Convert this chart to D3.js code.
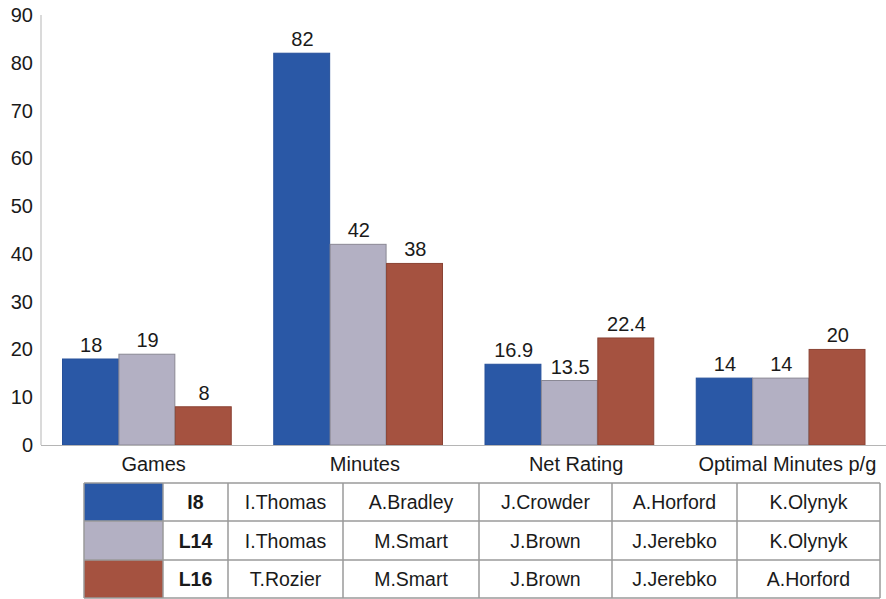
<!DOCTYPE html>
<html>
<head>
<meta charset="utf-8">
<script src="https://cdn.jsdelivr.net/npm/d3@7"></script>
<style>
  html, body { margin: 0; padding: 0; background: #fff; }
  svg text { font-family: "Liberation Sans", Arial, Helvetica, sans-serif; fill: #1a1a1a; }
</style>
</head>
<body>
<svg id="chart" width="886" height="599"></svg>
<script>
// Metric categories along the x axis
const categories = ["Games", "Minutes", "Net Rating", "Optimal Minutes p/g"];
// Lineup codes (series)
const seriesNames = ["I8", "L14", "L16"];
// Values per lineup, in category order
const valuesI8  = [18, 82, 16.9, 14];
const valuesL14 = [19, 42, 13.5, 14];
const valuesL16 = [8, 38, 22.4, 20];
// Players in each lineup
const playersI8  = ["I.Thomas", "A.Bradley", "J.Crowder", "A.Horford", "K.Olynyk"];
const playersL14 = ["I.Thomas", "M.Smart", "J.Brown", "J.Jerebko", "K.Olynyk"];
const playersL16 = ["T.Rozier", "M.Smart", "J.Brown", "J.Jerebko", "A.Horford"];
// Y axis ticks
const yTicks = [0, 10, 20, 30, 40, 50, 60, 70, 80, 90];

const seriesValues = [valuesI8, valuesL14, valuesL16];
const seriesPlayers = [playersI8, playersL14, playersL16];
const fills   = ["#2a58a6", "#b3b0c3", "#a55240"];
const strokes = ["#26509a", "#8a8894", "#8a4334"];

const svg = d3.select("#chart");
const plotLeft = 41, plotRight = 886, plotTop = 15, plotBottom = 445;
const fontSize = 20;

const x = d3.scaleBand().domain(categories).range([plotLeft, plotRight]).paddingInner(0).paddingOuter(0);
const inner = d3.scaleBand().domain(seriesNames).range([21, x.bandwidth() - 21]).padding(0);
const y = d3.scaleLinear().domain([0, 90]).range([plotBottom, plotTop]);

// Vertical axis line
svg.append("line").attr("x1", plotLeft).attr("x2", plotLeft).attr("y1", plotTop).attr("y2", plotBottom)
  .attr("stroke", "#b5b5b5").attr("stroke-width", 1);

// Y tick labels
svg.append("g").selectAll("text").data(yTicks).join("text")
  .attr("x", 33).attr("y", d => y(d)).attr("dy", "0.35em")
  .attr("text-anchor", "end").attr("font-size", fontSize).text(d => d);

// Bars
const rows = [];
categories.forEach((c, ci) => seriesNames.forEach((s, si) => rows.push({ c, s, si, v: seriesValues[si][ci] })));

svg.append("g").selectAll("rect").data(rows).join("rect")
  .attr("x", d => x(d.c) + inner(d.s) + 0.5)
  .attr("y", d => y(d.v))
  .attr("width", inner.bandwidth() - 0.5)
  .attr("height", d => plotBottom - y(d.v))
  .attr("fill", d => fills[d.si])
  .attr("stroke", d => strokes[d.si])
  .attr("stroke-width", 1);

// Value labels
svg.append("g").selectAll("text").data(rows).join("text")
  .attr("x", d => x(d.c) + inner(d.s) + inner.bandwidth() / 2 + 1)
  .attr("y", d => y(d.v) - 7)
  .attr("text-anchor", "middle").attr("font-size", fontSize)
  .text(d => d.v);

// Baseline
svg.append("line").attr("x1", plotLeft).attr("x2", plotRight).attr("y1", plotBottom + 0.5).attr("y2", plotBottom + 0.5)
  .attr("stroke", "#b5b5b5").attr("stroke-width", 1.2);

// Category labels
svg.append("g").selectAll("text").data(categories).join("text")
  .attr("x", d => x(d) + 21 + inner.bandwidth() * 1.5 + 7)
  .attr("y", 471).attr("text-anchor", "middle").attr("font-size", fontSize)
  .text(d => d);

// Lineup table
const colEdges = [84, 163, 228, 343, 479, 612, 737, 880];
const rowEdges = [483, 521, 560, 598];
const table = svg.append("g");

seriesNames.forEach((s, ri) => {
  const y0 = rowEdges[ri], y1 = rowEdges[ri + 1];
  table.append("rect").attr("x", colEdges[0]).attr("y", y0)
    .attr("width", colEdges[1] - colEdges[0]).attr("height", y1 - y0)
    .attr("fill", fills[ri]);
  const cells = [s].concat(seriesPlayers[ri]);
  cells.forEach((t, k) => {
    table.append("text")
      .attr("x", (colEdges[k + 1] + colEdges[k + 2]) / 2)
      .attr("y", (y0 + y1) / 2).attr("dy", "0.36em")
      .attr("text-anchor", "middle").attr("font-size", 19.5)
      .attr("font-weight", k === 0 ? "bold" : "normal")
      .text(t);
  });
});

// Table grid lines
table.selectAll("line.h").data(rowEdges).join("line")
  .attr("x1", colEdges[0]).attr("x2", colEdges[colEdges.length - 1])
  .attr("y1", d => d).attr("y2", d => d)
  .attr("stroke", "#9a9a9a").attr("stroke-width", 1.5);
table.selectAll("line.v").data(colEdges).join("line")
  .attr("x1", d => d).attr("x2", d => d)
  .attr("y1", rowEdges[0]).attr("y2", rowEdges[rowEdges.length - 1])
  .attr("stroke", "#9a9a9a").attr("stroke-width", 1.5);
</script>
</body>
</html>
